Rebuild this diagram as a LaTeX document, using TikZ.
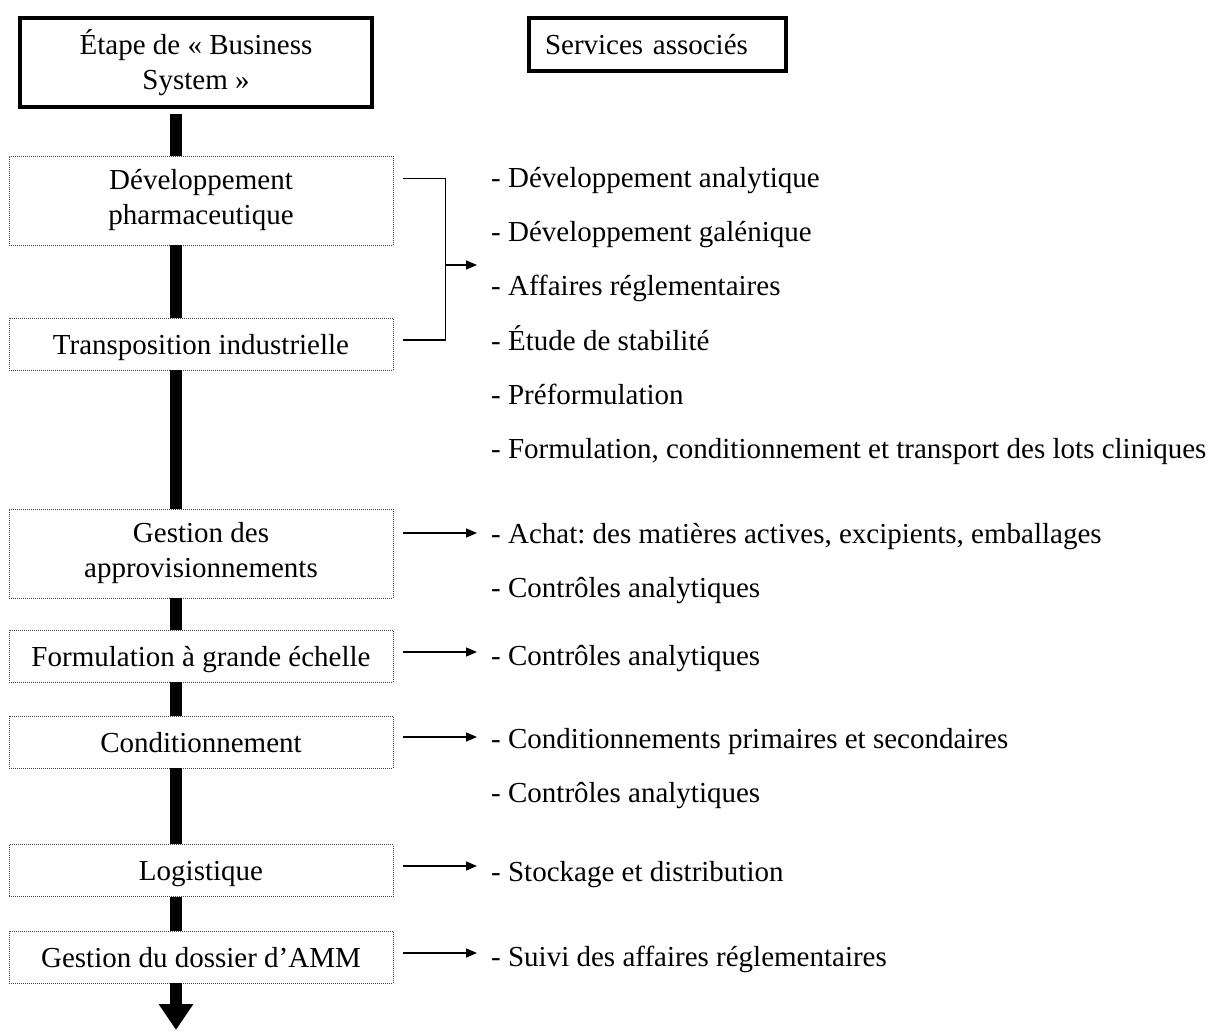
\documentclass[tikz,border=0pt]{standalone}
\usepackage{fontspec}
\setmainfont{Liberation Serif}
\usetikzlibrary{arrows.meta,calc}
\begin{document}
\begin{tikzpicture}[x=1pt,y=-1pt,
  every node/.style={font=\fontsize{29pt}{35pt}\selectfont\frenchspacing, inner sep=0pt},
  headbox/.style={draw, line width=4pt, align=center},
  stepbox/.style={draw=black!75, line width=0.8pt, dash pattern=on 1pt off 1pt, minimum width=384pt, align=center},
  onebox/.style={stepbox, minimum height=52pt, text height=20pt, text depth=0pt},
  item/.style={anchor=base west},
  spinebar/.style={line width=11.5pt},
  link/.style={line width=1.5pt},
  arr/.style={line width=1.5pt, -{Triangle[length=11pt,width=9pt]}}
]
\useasboundingbox (0,0) rectangle (1218,1032);

% header boxes
\node[headbox, minimum width=352pt, minimum height=89pt] (top) at (196,62.5) {Étape de « Business\\System »};
\node[headbox, minimum height=53pt, inner xsep=16pt, text width=225pt, align=left] (serv) at (657.5,44.5) {\mbox{Services associés}};

% step boxes
\node[stepbox, minimum height=89pt] (dev) at (201,200.5) {Développement\\pharmaceutique};
\node[onebox] (trans) at (201,344) {Transposition industrielle};
\node[stepbox, minimum height=89pt] (appro) at (201,553.5) {Gestion des\\approvisionnements};
\node[onebox] (formu) at (201,656) {Formulation à grande échelle};
\node[onebox] (cond) at (201,742) {Conditionnement};
\node[onebox] (logi) at (201,870.5) {Logistique};
\node[onebox] (amm) at (201,957) {Gestion du dossier d’AMM};

% spine
\coordinate (spine) at (176,0);
\coordinate (endpt) at (176,1030);
\draw[spinebar] ($(top.south -| spine)+(0,5)$) -- (dev.north -| spine);
\draw[spinebar] (dev.south -| spine) -- (trans.north -| spine);
\draw[spinebar] (trans.south -| spine) -- (appro.north -| spine);
\draw[spinebar] (appro.south -| spine) -- (formu.north -| spine);
\draw[spinebar] (formu.south -| spine) -- (cond.north -| spine);
\draw[spinebar] (cond.south -| spine) -- (logi.north -| spine);
\draw[spinebar] (logi.south -| spine) -- (amm.north -| spine);
\draw[spinebar, -{Triangle[length=26pt,width=33pt]}] (amm.south -| spine) -- (endpt);

% service lists (baselines)
\node[item] (l1) at (491,188) {- Développement analytique};
\node[item] (l2) at (491,242) {- Développement galénique};
\node[item] (l3) at (491,296) {- Affaires réglementaires};
\node[item] (l4) at (491,350) {- Étude de stabilité};
\node[item] (l5) at (491,404) {- Préformulation};
\node[item] (l6) at (491,458) {- Formulation, conditionnement et transport des lots cliniques};

\node[item] (a1) at (491,543) {- Achat: des matières actives, excipients, emballages};
\node[item] (a2) at (491,597) {- Contrôles analytiques};
\node[item] (f1) at (491,665) {- Contrôles analytiques};
\node[item] (c1) at (491,748) {- Conditionnements primaires et secondaires};
\node[item] (c2) at (491,802) {- Contrôles analytiques};
\node[item] (s1) at (491,881) {- Stockage et distribution};
\node[item] (r1) at (491,966) {- Suivi des affaires réglementaires};

% bracket
\coordinate (bkmid) at (445,265);
\draw[link] ($(dev.east)+(10,-22)$) -| ($(trans.east)+(52,-4)$) -- ($(trans.east)+(10,-4)$);
\draw[arr, shorten >=14pt] (bkmid) -- (bkmid -| l1.west);

% arrows
\draw[arr] ($(appro.east |- a1.base west)+(10,-10)$) -- ($(a1.base west)+(-14,-10)$);
\draw[arr] ($(formu.east |- f1.base west)+(10,-13)$) -- ($(f1.base west)+(-14,-13)$);
\draw[arr] ($(cond.east |- c1.base west)+(10,-11)$) -- ($(c1.base west)+(-14,-11)$);
\draw[arr] ($(logi.east |- s1.base west)+(10,-15)$) -- ($(s1.base west)+(-14,-15)$);
\draw[arr] ($(amm.east |- r1.base west)+(10,-13)$) -- ($(r1.base west)+(-14,-13)$);
\end{tikzpicture}
\end{document}
